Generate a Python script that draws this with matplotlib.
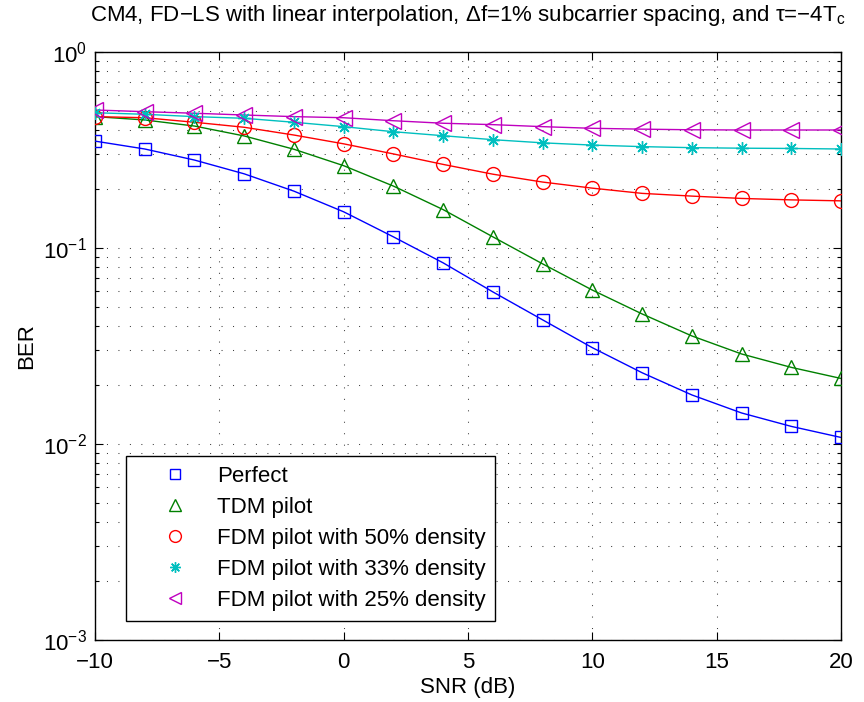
import numpy as np
import matplotlib
matplotlib.use("Agg")
import matplotlib.pyplot as plt
from matplotlib.ticker import LogLocator, FixedLocator, NullFormatter

plt.rcParams['font.family'] = ['Liberation Sans', 'DejaVu Sans']
plt.rcParams['mathtext.fontset'] = 'custom'
plt.rcParams['mathtext.rm'] = 'Liberation Sans'
plt.rcParams['mathtext.it'] = 'Liberation Sans'
plt.rcParams['mathtext.default'] = 'regular'

snr = [-10, -8, -6, -4, -2, 0, 2, 4, 6, 8, 10, 12, 14, 16, 18, 20]

ber_perfect = [0.351, 0.320, 0.281, 0.239, 0.195, 0.153, 0.114, 0.084, 0.0597, 0.0430,
               0.0310, 0.0231, 0.0178, 0.0144, 0.0123, 0.0108]
ber_tdm = [0.468, 0.450, 0.419, 0.373, 0.319, 0.263, 0.207, 0.157, 0.114, 0.083,
           0.0610, 0.0461, 0.0356, 0.0288, 0.0246, 0.0216]
ber_fdm50 = [0.468, 0.462, 0.438, 0.413, 0.377, 0.340, 0.302, 0.267, 0.238, 0.217,
             0.202, 0.190, 0.184, 0.179, 0.176, 0.174]
ber_fdm33 = [0.490, 0.481, 0.468, 0.459, 0.438, 0.416, 0.392, 0.374, 0.357, 0.344,
             0.335, 0.329, 0.325, 0.323, 0.322, 0.320]
ber_fdm25 = [0.506, 0.496, 0.487, 0.477, 0.468, 0.462, 0.446, 0.433, 0.426, 0.416,
             0.408, 0.404, 0.401, 0.400, 0.400, 0.400]

labels = ['Perfect', 'TDM pilot', 'FDM pilot with 50% density',
          'FDM pilot with 33% density', 'FDM pilot with 25% density']
series = [ber_perfect, ber_tdm, ber_fdm50, ber_fdm33, ber_fdm25]
colors = ['#0000ff', '#008000', '#ff0000', '#00bfbf', '#bf00bf']
markers = ['s', '^', 'o', (8, 2, 0), '<']
msizes = [8, 10, 10, 9, 11]

xticks = [-10, -5, 0, 5, 10, 15, 20]

FS = 16

fig = plt.figure(figsize=(8.64, 7.02), dpi=100)
ax = fig.add_axes([95/864, 1-640/702, 746/864, 588/702])

for y, c, m, ms, lab in zip(series, colors, markers, msizes, labels):
    ax.plot(snr, y, color=c, lw=1.0, zorder=3)
    ax.plot(snr, y, linestyle='none', marker=m, markersize=ms, markerfacecolor='none',
            markeredgecolor=c, markeredgewidth=1.0, label=lab, zorder=4)

ax.set_yscale('log')
ax.set_xlim(-10, 20)
ax.set_ylim(1e-3, 1)
ax.xaxis.set_major_locator(FixedLocator(xticks))
ax.yaxis.set_major_locator(LogLocator(base=10, numticks=10))
ax.yaxis.set_minor_locator(LogLocator(base=10, subs=np.arange(2, 10), numticks=20))
ax.yaxis.set_minor_formatter(NullFormatter())

grid_kw = dict(color='0.25', linestyle=(0, (1, 10)), linewidth=0.75)
ax.grid(True, which='major', axis='both', **grid_kw)
ax.grid(True, which='minor', axis='y', **grid_kw)

ax.tick_params(which='both', direction='in', top=True, right=True, labelsize=FS, width=0.8)
ax.tick_params(which='major', length=5.5)
ax.tick_params(which='minor', length=3)
ax.tick_params(axis='x', pad=8.5)
ax.tick_params(axis='y', pad=6)
for s in ax.spines.values():
    s.set_linewidth(1.0)

ax.set_xlabel('SNR (dB)', fontsize=FS, labelpad=3)
ax.set_ylabel('BER', fontsize=FS, labelpad=4)
ax.set_title(r'CM4, FD$-$LS with linear interpolation, $\Delta$f=1% subcarrier spacing, and $\tau$=$-$4T$_\mathregular{c}$',
             fontsize=FS, pad=22)

leg = ax.legend(loc='lower left', bbox_to_anchor=(31/746, 19/588), borderaxespad=0,
                fontsize=FS, frameon=True, fancybox=False, framealpha=1,
                edgecolor='black', borderpad=0.45, handlelength=3.5, handletextpad=0.13,
                labelspacing=0.45, markerscale=0.85)
leg.get_frame().set_linewidth(1.0)

fig.savefig('out.png', dpi=100)
